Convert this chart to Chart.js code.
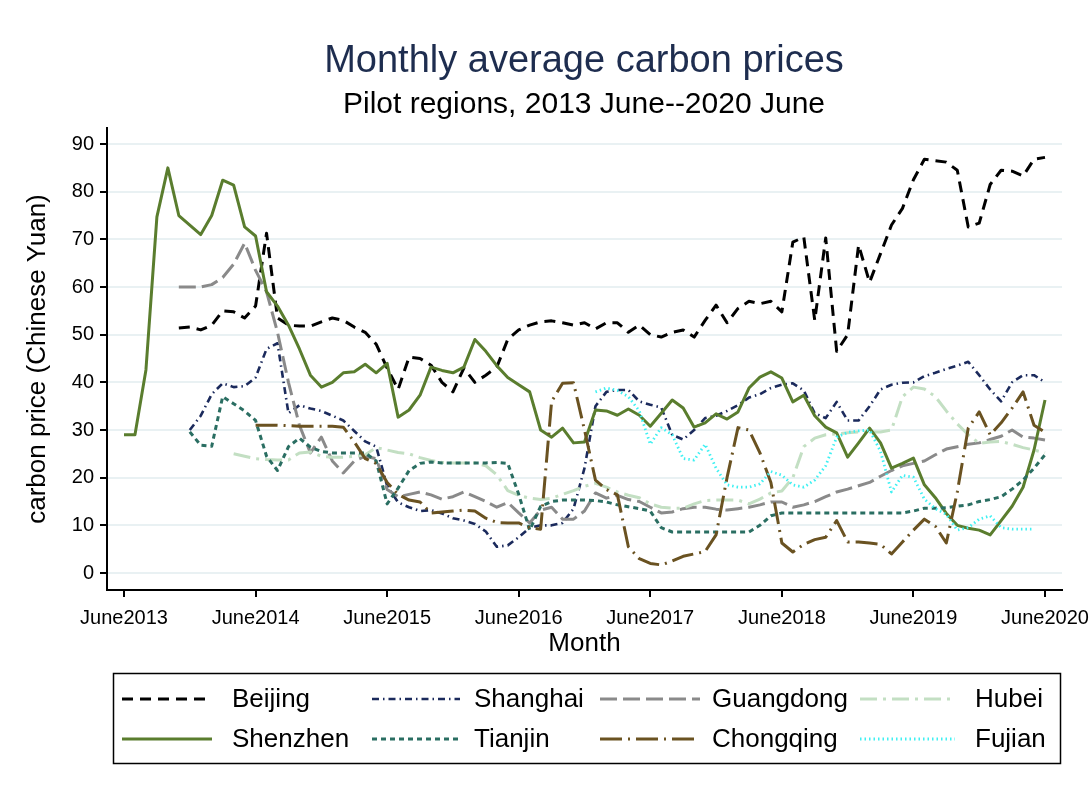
<!DOCTYPE html>
<html><head><meta charset="utf-8">
<script src="https://cdn.jsdelivr.net/npm/chart.js@4.4.1/dist/chart.umd.min.js"></script>
<style>html,body{margin:0;padding:0;background:#fff;}#wrap{width:1092px;height:792px;}</style>
</head><body><div id="wrap"><canvas id="c" width="1092" height="792"></canvas></div>
<script>
// Month index 0 = June 2013 ... 84 = June 2020
const tickMonths = [0, 12, 24, 36, 48, 60, 72, 84];
const tickLabels = ['June2013', 'June2014', 'June2015', 'June2016', 'June2017', 'June2018', 'June2019', 'June2020'];
const yTicks = [0, 10, 20, 30, 40, 50, 60, 70, 80, 90];
const N = null;

const beijing = [N,N,N,N,N,
  51.4,51.6,51,52,55,54.8,53.5,56,71.3,53.5,
  52,51.8,51.8,52.7,53.5,53,51.6,50.5,48,43,
  38.5,45.3,45,43.6,40,38,43,40,41.5,43.2,
  49,51,52,52.7,52.9,52.5,52,52.5,51.2,52.5,
  52.5,50.5,52,50,49.5,50.5,51,49.5,53,56.2,
  52.5,55.5,57,56.5,57,54.8,69.4,70.5,53,70.3,
  46.5,50,68.8,61,67,73,76.5,82.5,86.8,86.5,
  86.2,84.5,72.6,73.4,81.5,84.5,84.3,83.3,86.8,87.2];

const shanghai = [N,N,N,N,N,N,
  30,33,37.5,39.8,39,39.2,41,47,48.2,33.5,
  35.2,34.5,34,33,32,29.8,27.6,26.5,18.3,14.8,
  13.8,13,13.2,12.5,11.5,11,10.3,8.7,5.5,5.8,
  7.5,9.5,10,10,10.5,13.5,22,35,38,38.4,
  38.4,36,35.3,34.7,29,28,30,32.5,33,34,
  35.2,36.8,37.5,38.8,39.5,39.8,38.3,33.5,32.5,35.9,
  32,32,35,38.5,39.5,39.9,40,41.3,42,42.8,
  43.5,44.3,41.5,38.5,36,40,41.5,41.5,40];

const guangdong = [N,N,N,N,N,
  60,60,60,60.5,62,64.8,69.2,63.5,59,50.5,
  40,31,25.2,28.5,23.5,21,23.5,24.5,24,17.5,
  16,16.5,17,16.4,15.5,16,17,16,15,13.8,
  14.8,12.6,10.5,13.2,13.8,11.3,11.3,13,16.8,15.7,
  16.3,15.4,15,13.8,12.6,12.8,13.5,13.8,13.8,13.4,
  13.2,13.5,13.8,14.3,14.9,14.9,13.8,14.3,15,16,
  17,17.6,18.3,19,20.3,21.5,22.5,23,23.5,24.8,
  26,26.5,27,27.3,28,28.7,30,28.5,28.3,27.9];

const hubei = [N,N,N,N,N,N,N,N,N,N,
  25,24.5,24,23.8,23.7,23.7,25.2,25.4,24.5,24.3,
  24.3,24.5,24.8,26.3,25.8,25.3,25,24.2,23.6,23.2,
  23.1,23.1,23.1,22.5,20.6,17.3,16.3,15.7,15.4,15.7,
  16.5,17.3,18.2,18.8,18,17,16.3,15.8,14.5,13.8,
  13.6,13.6,14.5,15.2,15.3,15.3,15.3,14.5,15.5,16.8,
  17.2,20,26.5,28.3,29,29.2,29.4,29.6,29.6,29.6,
  30,37,39,38.6,37,34,31.3,29,27.2,27.5,
  27.6,27,26.3,25.8,25.2];

const shenzhen = [
  29,29,42.6,74.7,85,75,73,71,75,82.4,
  81.4,72.6,70.7,59,56,52,47,41.5,39,40,
  42,42.2,43.8,42,44,32.7,34.2,37.3,43.2,42.5,
  42,43.2,49,46.5,43.5,41,39.5,38,30,28.5,
  30.4,27.3,27.5,34.2,34,33.1,34.4,33.1,30.8,33.5,
  36.3,34.6,30.6,31.5,33.4,32.3,33.8,38.8,41.1,42.2,
  40.9,35.9,37.3,33,30.6,29.4,24.3,27.3,30.4,27.3,
  22,23,24.1,18.5,15.8,12.5,10,9.4,9,8,
  11,14,18,25.8,36.3];

const tianjin = [N,N,N,N,N,N,
  29.6,26.8,26.6,37,35.5,34,32,24.5,21.5,26.5,
  28.3,26.4,25.5,25.2,25.2,25.2,25.2,23.5,14.5,17.8,
  21.5,23,23.3,23.1,23.1,23.1,23.1,23.1,23.2,23,
  16.5,9,14,15,15.3,15.3,15.3,15.2,14.9,14.3,
  13.9,13.5,13,9.5,8.6,8.6,8.6,8.6,8.6,8.6,
  8.6,8.6,10,12,12.6,12.6,12.6,12.6,12.6,12.6,
  12.6,12.6,12.6,12.6,12.6,12.6,13,13.6,13.6,13.7,
  14,14.3,15,15.4,16,17.6,19.5,22,24.8];

const chongqing = [N,N,N,N,N,N,N,N,N,N,N,N,
  31,31,31,30.9,30.8,30.8,30.8,30.8,30.6,27.5,
  24,23,19,16.5,15.3,14.9,12.6,12.8,13,13.2,
  13,11.5,10.6,10.5,10.5,9.5,9.2,36,39.8,39.9,
  30,19.5,17.5,16.4,5.5,3,2,1.7,2.5,3.5,
  4,4.5,8,20,30.5,30,25.2,19,6.3,4.4,
  6,7,7.5,11,6.5,6.5,6.3,6,4,6.5,
  9,11.3,9.8,6.3,17,30.4,33.8,29,31.5,34.6,
  38,31,29.5];

const fujian = [N,N,N,N,N,N,N,N,N,N,
  N,N,N,N,N,N,N,N,N,N,
  N,N,N,N,N,N,N,N,N,N,
  N,N,N,N,N,N,N,N,N,N,
  N,N,N,
  38,38.8,38.3,37,34,27,30.5,29,24,23.7,
  27,22,18.5,18,18,18.7,21.3,20.5,18.5,18,
  19.5,22.5,28.5,29.5,29.8,30,25.5,17,20.5,20.1,
  15.5,13.5,12.3,9,9.5,11.3,12,9.5,9.2,9.2,9.2,N];

const seriesNames = ['Beijing','Shanghai','Guangdong','Hubei','Shenzhen','Tianjin','Chongqing','Fujian'];
const seriesData = [beijing, shanghai, guangdong, hubei, shenzhen, tianjin, chongqing, fujian];
const seriesStyle = [
  {color:'#000000', dash:[11,7], width:3},
  {color:'#1b2a5c', dash:[7,4,1.5,4], width:2.6},
  {color:'#8a8a8a', dash:[17,6], width:3},
  {color:'#c3dfc3', dash:[17,6,3,6], width:3},
  {color:'#5a7d2e', dash:[], width:3},
  {color:'#2a6e62', dash:[5,4], width:3},
  {color:'#6a5221', dash:[22,6,2,6], width:3},
  {color:'#3ff0f2', dash:[1.5,3], width:2.8}
];

const FONT = '"Liberation Sans", Arial, Helvetica, sans-serif';
Chart.defaults.font.family = FONT;
Chart.defaults.color = '#000';

const datasets = seriesNames.map((name, k) => ({
  label: name,
  data: seriesData[k].map((v, i) => ({x: i, y: v})),
  borderColor: seriesStyle[k].color,
  borderDash: seriesStyle[k].dash,
  borderWidth: seriesStyle[k].width,
  borderCapStyle: 'butt',
  borderJoinStyle: 'round',
  pointRadius: 0,
  tension: 0,
  spanGaps: false,
  fill: false,
  order: seriesNames.length - k
}));

const decor = {
  id: 'decor',
  afterDraw(chart) {
    const ctx = chart.ctx;
    ctx.save();
    ctx.textAlign = 'center';
    ctx.textBaseline = 'middle';
    ctx.fillStyle = '#1e2d4f';
    ctx.font = '38px ' + FONT;
    ctx.fillText('Monthly average carbon prices', 584, 62);
    ctx.fillStyle = '#000';
    ctx.font = '30px ' + FONT;
    ctx.fillText('Pilot regions, 2013 June--2020 June', 584, 105);

    // legend
    ctx.strokeStyle = '#000';
    ctx.lineWidth = 1.5;
    ctx.setLineDash([]);
    ctx.strokeRect(113.5, 673.5, 947, 90);
    const cols = [[122, 212, 232], [372, 460, 474], [600, 700, 712], [860, 955, 975]];
    const rows = [699, 739];
    const order = [[0, 4], [1, 5], [2, 6], [3, 7]];
    ctx.font = '26px ' + FONT;
    ctx.textAlign = 'left';
    for (let c = 0; c < 4; c++) {
      for (let r = 0; r < 2; r++) {
        const k = order[c][r];
        const st = seriesStyle[k];
        ctx.beginPath();
        ctx.setLineDash(st.dash);
        ctx.lineCap = 'butt';
        ctx.strokeStyle = st.color;
        ctx.lineWidth = st.width;
        ctx.moveTo(cols[c][0], rows[r]);
        ctx.lineTo(cols[c][1], rows[r]);
        ctx.stroke();
        ctx.setLineDash([]);
        ctx.fillStyle = '#000';
        ctx.fillText(seriesNames[k], cols[c][2], rows[r] + 1);
      }
    }
    ctx.restore();
  }
};

new Chart(document.getElementById('c'), {
  type: 'line',
  data: { datasets },
  options: {
    responsive: false,
    animation: false,
    devicePixelRatio: 1,
    layout: { padding: { top: 128, left: 0, right: 30, bottom: 132 } },
    plugins: { legend: { display: false }, title: { display: false }, tooltip: { enabled: false } },
    scales: {
      x: {
        type: 'linear',
        min: -1.551,
        max: 85.551,
        afterBuildTicks: s => { s.ticks = tickMonths.map(v => ({ value: v })); },
        afterFit: s => { s.height = 70; s.paddingLeft = 0; s.paddingRight = 0; },
        ticks: {
          autoSkip: false, maxRotation: 0, minRotation: 0,
          font: { size: 20 }, color: '#000', padding: 9,
          callback: v => tickLabels[tickMonths.indexOf(v)]
        },
        grid: { drawOnChartArea: false, drawTicks: true, tickLength: 7, color: '#000', tickColor: '#000', lineWidth: 2 },
        border: { display: true, color: '#000', width: 2 },
        title: { display: true, text: 'Month', font: { size: 26 }, color: '#000', padding: { top: 0, bottom: 1 } }
      },
      y: {
        type: 'linear',
        min: -3.566,
        max: 93.36,
        afterBuildTicks: s => { s.ticks = yTicks.map(v => ({ value: v })); },
        afterFit: s => { s.width = 107; s.paddingTop = 0; s.paddingBottom = 0; },
        ticks: { font: { size: 20 }, color: '#000', padding: 6 },
        grid: { color: '#e9f1f3', lineWidth: 2, tickColor: '#000', tickLength: 7, drawTicks: true },
        border: { display: true, color: '#000', width: 2 },
        title: { display: true, text: 'carbon price (Chinese Yuan)', font: { size: 26 }, color: '#000', padding: { top: 22, bottom: 0 } }
      }
    }
  },
  plugins: [decor]
});
</script>
</body></html>
